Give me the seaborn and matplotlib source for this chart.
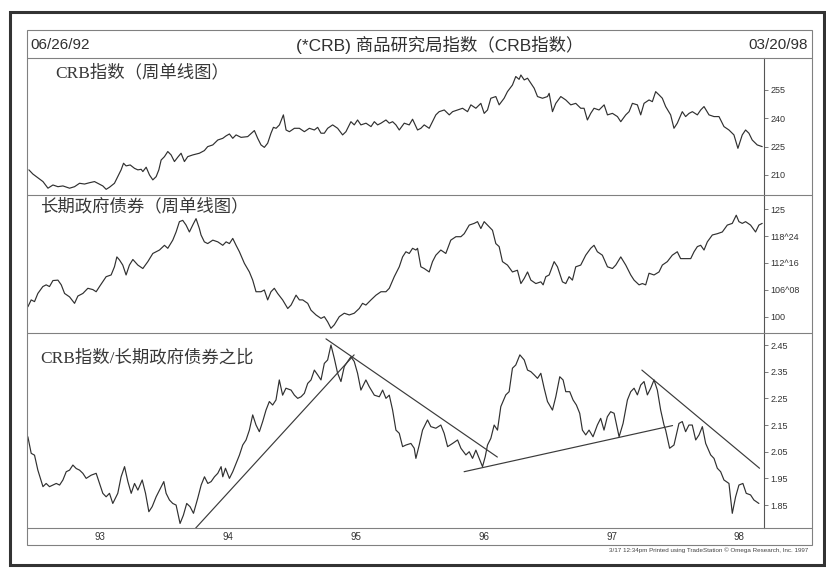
import pandas as pd
import seaborn as sns
import matplotlib.pyplot as plt
from matplotlib.lines import Line2D
from matplotlib.patches import Rectangle

# ---- data (x = decimal year) ----
crb_year = [1992.487, 1992.518, 1992.597, 1992.636, 1992.675, 1992.714, 1992.753, 1992.805, 1992.844, 1992.883,
            1992.922, 1992.961, 1993.000, 1993.039, 1993.065, 1993.091, 1993.117, 1993.156, 1993.182, 1993.208,
            1993.227, 1993.247, 1993.279, 1993.313, 1993.339, 1993.365, 1993.378, 1993.404, 1993.430, 1993.456,
            1993.482, 1993.503, 1993.521, 1993.547, 1993.573, 1993.599, 1993.625, 1993.651, 1993.677, 1993.703,
            1993.729, 1993.768, 1993.820, 1993.859, 1993.885, 1993.925, 1993.964, 1994.003, 1994.029, 1994.055,
            1994.081, 1994.107, 1994.146, 1994.198, 1994.250, 1994.276, 1994.302, 1994.328, 1994.354, 1994.380,
            1994.399, 1994.420, 1994.446, 1994.477, 1994.498, 1994.524, 1994.563, 1994.602, 1994.641, 1994.680,
            1994.719, 1994.745, 1994.771, 1994.797, 1994.823, 1994.862, 1994.901, 1994.940, 1994.966, 1995.005,
            1995.031, 1995.057, 1995.083, 1995.123, 1995.162, 1995.188, 1995.214, 1995.240, 1995.279, 1995.305,
            1995.331, 1995.357, 1995.383,
            1995.422, 1995.461, 1995.487, 1995.526, 1995.552, 1995.578, 1995.617, 1995.643, 1995.669, 1995.695,
            1995.735, 1995.774, 1995.800, 1995.839, 1995.878, 1995.917, 1995.943, 1995.982, 1996.021, 1996.047,
            1996.073, 1996.099, 1996.138, 1996.164, 1996.203, 1996.229, 1996.268, 1996.294, 1996.320, 1996.334,
            1996.360, 1996.386, 1996.412, 1996.438, 1996.464, 1996.503, 1996.542, 1996.555, 1996.581, 1996.607,
            1996.646, 1996.685, 1996.724, 1996.763, 1996.802, 1996.828, 1996.854, 1996.880, 1996.906, 1996.945,
            1996.985, 1997.011, 1997.050, 1997.089, 1997.115, 1997.154, 1997.180, 1997.206, 1997.245, 1997.271,
            1997.297, 1997.336, 1997.362, 1997.388, 1997.414, 1997.440, 1997.466, 1997.505, 1997.531, 1997.557,
            1997.596, 1997.622, 1997.649, 1997.675, 1997.714, 1997.740, 1997.766, 1997.805, 1997.844, 1997.883,
            1997.922, 1997.961, 1998.000, 1998.031, 1998.065, 1998.091, 1998.117, 1998.143, 1998.182, 1998.221]
crb_value = [212.7, 210.5, 206.5, 203.0, 204.7, 203.8, 204.2, 203.0, 203.8, 205.6,
             205.2, 205.9, 206.5, 205.1, 204.2, 202.4, 203.5, 205.6, 209.1, 212.7,
             216.2, 214.8, 215.3, 213.5, 212.7, 213.0, 211.8, 214.1, 210.0, 207.4,
             209.1, 212.7, 217.9, 219.7, 222.4, 220.6, 217.1, 219.4, 221.5, 217.1,
             219.7, 220.6, 221.5, 222.9, 225.0, 225.9, 228.5, 229.4, 230.7, 231.7,
             229.4, 231.2, 229.9, 230.3, 233.5, 229.4, 225.9, 224.6, 226.8, 232.1,
             235.2, 234.7, 236.5, 241.8, 233.8, 232.9, 234.7, 234.7, 232.9, 234.7,
             233.8, 235.2, 232.1, 232.1, 234.7, 236.5, 234.7, 231.2, 232.9, 238.2,
             236.5, 239.1, 236.5, 237.4, 235.6, 238.2, 236.5, 237.4, 239.1, 237.4,
             238.2, 236.5, 233.8,
             237.4, 236.5, 239.5, 233.8, 234.7, 236.5, 234.7, 238.2, 241.8, 243.5,
             244.4, 241.8, 243.5, 244.4, 245.3, 243.5, 247.1, 245.3, 247.9, 242.6,
             244.4, 250.6, 251.5, 247.1, 250.6, 254.1, 257.6, 262.1, 260.6, 262.9,
             260.3, 261.2, 258.5, 255.9, 251.5, 250.6, 251.5, 253.2, 243.5, 247.9,
             251.5, 249.7, 247.1, 247.9, 245.3, 245.3, 239.1, 242.6, 245.3, 244.4,
             247.1, 241.8, 242.6, 240.9, 238.2, 241.8, 243.5, 247.9, 247.1, 241.8,
             247.9, 249.7, 248.8, 254.1, 252.4, 250.6, 246.2, 241.8, 234.7, 237.4,
             243.5, 240.9, 242.6, 243.5, 241.8, 244.4, 246.2, 241.8, 240.9, 240.9,
             235.6, 233.8, 231.2, 224.1, 231.2, 233.8, 232.1, 228.5, 225.9, 225.0]

bond_year = [1992.479, 1992.505, 1992.531, 1992.557, 1992.596, 1992.622, 1992.648, 1992.675, 1992.714, 1992.740,
             1992.766, 1992.805, 1992.844, 1992.870, 1992.909, 1992.948, 1992.987,
             1993.013, 1993.039, 1993.091, 1993.130, 1993.156, 1993.175, 1993.195, 1993.221, 1993.247, 1993.273,
             1993.300, 1993.339, 1993.378, 1993.417, 1993.456, 1993.508, 1993.547, 1993.573, 1993.612, 1993.638,
             1993.664, 1993.690, 1993.716, 1993.742, 1993.768, 1993.794, 1993.820, 1993.833, 1993.859, 1993.885,
             1993.925, 1993.964,
             1994.003, 1994.029, 1994.055, 1994.081, 1994.107, 1994.133, 1994.172, 1994.211, 1994.237, 1994.263,
             1994.302, 1994.328, 1994.354, 1994.380, 1994.406, 1994.432, 1994.471, 1994.511, 1994.537, 1994.576,
             1994.602, 1994.628, 1994.667, 1994.693, 1994.732, 1994.771, 1994.797, 1994.823, 1994.849, 1994.875,
             1994.914, 1994.953, 1994.992,
             1995.031, 1995.070, 1995.096, 1995.122, 1995.162, 1995.201, 1995.240, 1995.279, 1995.305, 1995.344,
             1995.383,
             1995.409, 1995.435, 1995.461, 1995.487, 1995.513, 1995.526, 1995.552, 1995.578, 1995.617, 1995.643,
             1995.669, 1995.708, 1995.747, 1995.786, 1995.826, 1995.865, 1995.891, 1995.930, 1995.969, 1995.995,
             1996.021, 1996.047, 1996.073, 1996.112, 1996.138, 1996.164, 1996.190, 1996.229, 1996.268, 1996.307,
             1996.334, 1996.360, 1996.386, 1996.412, 1996.451, 1996.490, 1996.508, 1996.529, 1996.555, 1996.594,
             1996.620, 1996.659, 1996.685, 1996.711, 1996.737, 1996.763, 1996.802, 1996.841, 1996.880, 1996.906,
             1996.932, 1996.971,
             1997.011, 1997.050, 1997.076, 1997.115, 1997.154, 1997.193, 1997.219, 1997.258, 1997.284, 1997.310,
             1997.336, 1997.375, 1997.414, 1997.440, 1997.479, 1997.518, 1997.557, 1997.583, 1997.622, 1997.662,
             1997.688, 1997.714, 1997.740, 1997.766, 1997.792, 1997.831, 1997.870, 1997.909, 1997.948, 1997.987,
             1998.018, 1998.039, 1998.065, 1998.091, 1998.130, 1998.169, 1998.195, 1998.221]
bond_value = [102.3, 103.9, 103.5, 105.4, 107.0, 107.4, 107.0, 108.4, 108.5, 107.4,
              105.4, 104.6, 103.1, 104.8, 105.4, 106.6, 106.3,
              105.8, 107.0, 109.3, 109.7, 111.6, 113.9, 113.2, 112.0, 109.7, 112.0,
              113.3, 112.0, 111.2, 112.8, 114.7, 115.5, 116.6, 115.9, 117.8, 119.7,
              122.1, 122.4, 121.3, 119.7, 121.3, 122.8, 120.5, 119.0, 117.4, 117.0,
              117.8, 117.4,
              116.6, 117.4, 117.0, 118.2, 116.6, 115.1, 112.4, 110.4, 108.5, 105.8,
              105.8, 106.2, 103.9, 105.8, 106.6, 105.4, 103.9, 101.9, 102.7, 105.0,
              103.9, 103.9, 103.1, 101.5, 100.4, 99.6, 100.0, 98.8, 97.3, 98.1,
              100.0, 100.8, 100.4,
              100.8, 101.9, 103.1, 102.7, 103.9, 105.0, 105.8, 105.8, 106.6, 109.3,
              111.6,
              113.9, 115.1, 114.7, 115.9, 115.5, 115.9, 111.6, 111.2, 110.4, 112.8,
              114.3, 115.5, 114.7, 117.8, 118.6, 118.6, 119.3, 121.3, 121.7, 122.1,
              120.5, 122.1, 121.3, 120.1, 117.0, 116.3, 112.8, 112.0, 110.4, 110.8,
              107.7, 108.9, 110.4, 108.5, 107.7, 108.1, 107.4, 109.3, 109.7, 112.8,
              111.6, 108.1, 107.7, 109.3, 108.5, 111.6, 112.0, 114.3, 115.9, 116.6,
              115.1, 114.3,
              111.6, 111.2, 112.0, 113.9, 112.0, 109.7, 108.5, 107.4, 107.7, 107.4,
              110.1, 109.7, 110.4, 112.0, 112.8, 114.3, 115.1, 113.5, 113.5, 113.5,
              115.1, 116.3, 116.6, 115.5, 117.4, 119.0, 119.3, 119.7, 121.3, 121.7,
              123.6, 122.1, 121.7, 122.1, 121.3, 119.7, 121.3, 121.7]

ratio_year = [1992.479, 1992.505, 1992.531, 1992.557, 1992.597, 1992.622, 1992.648, 1992.675, 1992.701, 1992.727,
              1992.753, 1992.779, 1992.805, 1992.831, 1992.857, 1992.883, 1992.909, 1992.935, 1992.974,
              1993.013, 1993.039, 1993.065, 1993.091, 1993.117, 1993.143, 1993.182, 1993.208, 1993.235, 1993.261,
              1993.287, 1993.313, 1993.339, 1993.373, 1993.399, 1993.425, 1993.451, 1993.482, 1993.508, 1993.542,
              1993.560, 1993.586, 1993.612, 1993.638, 1993.669, 1993.695, 1993.721, 1993.747, 1993.774, 1993.807,
              1993.834, 1993.860, 1993.886, 1993.912, 1993.938, 1993.964, 1993.990,
              1994.003, 1994.024, 1994.055, 1994.081, 1994.107, 1994.133, 1994.159, 1994.185, 1994.211, 1994.237,
              1994.263, 1994.289, 1994.315, 1994.341, 1994.367, 1994.393, 1994.419, 1994.445, 1994.471, 1994.497,
              1994.537, 1994.563, 1994.589, 1994.615, 1994.641, 1994.667, 1994.693, 1994.719, 1994.745, 1994.771,
              1994.797, 1994.823, 1994.849, 1994.875, 1994.901, 1994.927, 1994.953, 1994.979,
              1995.005, 1995.031, 1995.057, 1995.083, 1995.122, 1995.148, 1995.188, 1995.227, 1995.253, 1995.279,
              1995.305, 1995.331, 1995.357,
              1995.383, 1995.409, 1995.435, 1995.474, 1995.500, 1995.513, 1995.539, 1995.565, 1995.604, 1995.630,
              1995.669, 1995.708, 1995.734, 1995.761, 1995.800, 1995.839, 1995.865, 1995.904, 1995.930, 1995.956,
              1995.982,
              1996.008, 1996.034, 1996.055, 1996.073, 1996.099, 1996.125, 1996.151, 1996.177, 1996.216, 1996.242,
              1996.268, 1996.294, 1996.326, 1996.360, 1996.386, 1996.412, 1996.438, 1996.464, 1996.490, 1996.516,
              1996.542, 1996.581, 1996.607, 1996.638, 1996.664, 1996.685, 1996.716, 1996.742, 1996.768, 1996.794,
              1996.815, 1996.841, 1996.867, 1996.898, 1996.932, 1996.958, 1996.984,
              1997.010, 1997.036, 1997.063, 1997.102, 1997.133, 1997.167, 1997.193, 1997.219, 1997.245, 1997.271,
              1997.297, 1997.323, 1997.349, 1997.375, 1997.401, 1997.427, 1997.453, 1997.466, 1997.497, 1997.531,
              1997.570, 1997.596, 1997.622, 1997.648, 1997.674, 1997.701, 1997.727, 1997.753, 1997.779, 1997.818,
              1997.844, 1997.870, 1997.896, 1997.922, 1997.961, 1997.987,
              1998.013, 1998.039, 1998.070, 1998.096, 1998.130, 1998.156, 1998.195]
ratio_value = [2.106, 2.044, 2.037, 1.981, 1.919, 1.931, 1.919, 1.925, 1.931, 1.925,
               1.944, 1.975, 1.981, 2.000, 1.987, 1.981, 1.969, 1.950, 1.962,
               1.969, 1.931, 1.894, 1.881, 1.894, 1.856, 1.894, 1.956, 1.994, 1.938,
               1.894, 1.931, 1.906, 1.944, 1.894, 1.825, 1.844, 1.881, 1.906, 1.938,
               1.894, 1.869, 1.856, 1.850, 1.781, 1.812, 1.856, 1.844, 1.819, 1.875,
               1.925, 1.956, 1.931, 1.938, 1.956, 1.969, 1.994,
               1.956, 1.988, 1.950, 1.975, 2.006, 2.037, 2.075, 2.094, 2.131, 2.188,
               2.150, 2.125, 2.163, 2.206, 2.238, 2.225, 2.244, 2.319, 2.262, 2.288,
               2.281, 2.262, 2.250, 2.256, 2.269, 2.306, 2.319, 2.356, 2.338, 2.319,
               2.381, 2.394, 2.450, 2.400, 2.344, 2.313, 2.369, 2.388,
               2.406, 2.388, 2.344, 2.281, 2.319, 2.294, 2.262, 2.256, 2.281, 2.250,
               2.262, 2.206, 2.131,
               2.119, 2.069, 2.075, 2.081, 2.063, 2.025, 2.075, 2.131, 2.169, 2.144,
               2.138, 2.150, 2.119, 2.069, 2.081, 2.094, 2.063, 2.038, 2.050, 2.025,
               2.056,
               2.025, 1.994, 2.031, 2.075, 2.100, 2.150, 2.131, 2.219, 2.263, 2.275,
               2.363, 2.375, 2.413, 2.394, 2.356, 2.350, 2.338, 2.325, 2.344, 2.288,
               2.238, 2.206, 2.256, 2.331, 2.319, 2.275, 2.275, 2.244, 2.225, 2.194,
               2.131, 2.113, 2.131, 2.106, 2.150, 2.175, 2.131,
               2.181, 2.200, 2.194, 2.106, 2.156, 2.244, 2.275, 2.288, 2.263, 2.300,
               2.313, 2.263, 2.288, 2.319, 2.281, 2.206, 2.150, 2.131, 2.063, 2.075,
               2.156, 2.163, 2.125, 2.150, 2.150, 2.094, 2.113, 2.144, 2.081, 2.038,
               2.025, 1.988, 1.975, 1.944, 1.931, 1.819,
               1.881, 1.925, 1.931, 1.894, 1.888, 1.869, 1.856]

# hand-drawn trend lines on the ratio panel (start, end)
trend_year = [[1993.79, 1995.03], [1994.81, 1996.15], [1995.89, 1997.52], [1997.28, 1998.20]]
trend_value = [[1.763, 2.413], [2.473, 2.030], [1.975, 2.148], [2.356, 1.988]]

crb_ticks = [210, 225, 240, 255]
bond_ticks = [100, 106.25, 112.5, 118.75, 125]
bond_labels = ["100", "106^08", "112^16", "118^24", "125"]
ratio_ticks = [1.85, 1.95, 2.05, 2.15, 2.25, 2.35, 2.45]
year_ticks = [1993, 1994, 1995, 1996, 1997, 1998]
year_labels = ["93", "94", "95", "96", "97", "98"]

crb = pd.DataFrame({"year": crb_year, "value": crb_value})
bond = pd.DataFrame({"year": bond_year, "value": bond_value})
ratio = pd.DataFrame({"year": ratio_year, "value": ratio_value})

sns.set_style("white")
plt.rcParams['font.family'] = ['Liberation Sans', 'Noto Sans CJK SC']

W, H = 826, 568
fig = plt.figure(figsize=(W / 100, H / 100), dpi=100)
fig.patch.set_facecolor("white")


def box(x0, y0, x1, y1):
    return [x0 / W, 1 - y1 / H, (x1 - x0) / W, (y1 - y0) / H]


def hline(y, x0=27, x1=812, **kw):
    fig.add_artist(Line2D([x0 / W, x1 / W], [1 - y / H, 1 - y / H], transform=fig.transFigure, **kw))


ink = "#303030"
frame = "#808080"

ax1 = fig.add_axes(box(28, 58, 764, 195))
ax2 = fig.add_axes(box(28, 195, 764, 333))
ax3 = fig.add_axes(box(28, 333, 764, 528))

sns.lineplot(x=crb["year"], y=crb["value"], ax=ax1, color=ink, linewidth=0.85)
sns.lineplot(x=bond["year"], y=bond["value"], ax=ax2, color=ink, linewidth=0.85)
sns.lineplot(x=ratio["year"], y=ratio["value"], ax=ax3, color=ink, linewidth=0.85)
for ty, tv in zip(trend_year, trend_value):
    sns.lineplot(x=ty, y=tv, ax=ax3, color="#3a3a3a", linewidth=0.85)

ax1.set_ylim(199.4, 271.9)
ax2.set_ylim(96.2, 128.3)
ax3.set_ylim(1.764, 2.495)
ax1.set_yticks(crb_ticks)
ax2.set_yticks(bond_ticks)
ax2.set_yticklabels(bond_labels)
ax3.set_yticks(ratio_ticks)
ax3.set_yticklabels(["%.2f" % t for t in ratio_ticks])

for ax in (ax1, ax2, ax3):
    ax.set_xlim(1992.48, 1998.235)
    ax.set_xlabel("")
    ax.set_ylabel("")
    ax.set_facecolor("white")
    ax.yaxis.tick_right()
    ax.tick_params(axis="y", direction="out", length=3, width=0.6, color="#666666",
                   labelsize=6.5, labelcolor="#333333", pad=1.5)
    for side in ("left", "top", "bottom"):
        ax.spines[side].set_visible(False)
    ax.spines["right"].set_color("#555555")
    ax.spines["right"].set_linewidth(0.8)

ax1.set_xticks([])
ax2.set_xticks([])
ax3.set_xticks(year_ticks)
ax3.set_xticklabels(year_labels, ha="left")
ax3.tick_params(axis="x", direction="out", length=5, width=0.6, color="#666666",
                labelsize=7, labelcolor="#333333", pad=-2)

# frame of the printout
fig.add_artist(Rectangle((10 / W, 1 - 565 / H), 814 / W, 553 / H, transform=fig.transFigure,
                         fill=False, edgecolor="#333333", linewidth=2.2))
fig.add_artist(Rectangle((27 / W, 1 - 545 / H), 785 / W, 515 / H, transform=fig.transFigure,
                         fill=False, edgecolor=frame, linewidth=0.8))
for y in (58, 195, 333, 528):
    hline(y, color=frame, linewidth=0.8)

# header
fig.text(30 / W, 1 - 45 / H, "06/26/92", fontsize=11, color=ink, va="center", ha="left")
fig.text(808 / W, 1 - 45 / H, "03/20/98", fontsize=11, color=ink, va="center", ha="right")
fig.text(440 / W, 1 - 45 / H, "(*CRB) 商品研究局指数（CRB指数）", fontsize=12.5, color=ink,
         va="center", ha="center")

# panel captions
serif_cjk = ['Liberation Serif', 'Noto Sans CJK SC']
fig.text(55 / W, 1 - 73 / H, "CRB指数（周单线图）", fontsize=12.5, color="#383838",
         va="center", ha="left", family=serif_cjk)
fig.text(40 / W, 1 - 207 / H, "长期政府债券（周单线图）", fontsize=12.5, color="#383838",
         va="center", ha="left", family=serif_cjk)
fig.text(40 / W, 1 - 358 / H, "CRB指数/长期政府债券之比", fontsize=12.5, color="#383838",
         va="center", ha="left", family=serif_cjk)

fig.text(808 / W, 1 - 550 / H, "3/17 12:34pm Printed using TradeStation © Omega Research, Inc. 1997",
         fontsize=4.5, color="#444444", va="center", ha="right")

plt.savefig("out.png", dpi=100, facecolor="white")
